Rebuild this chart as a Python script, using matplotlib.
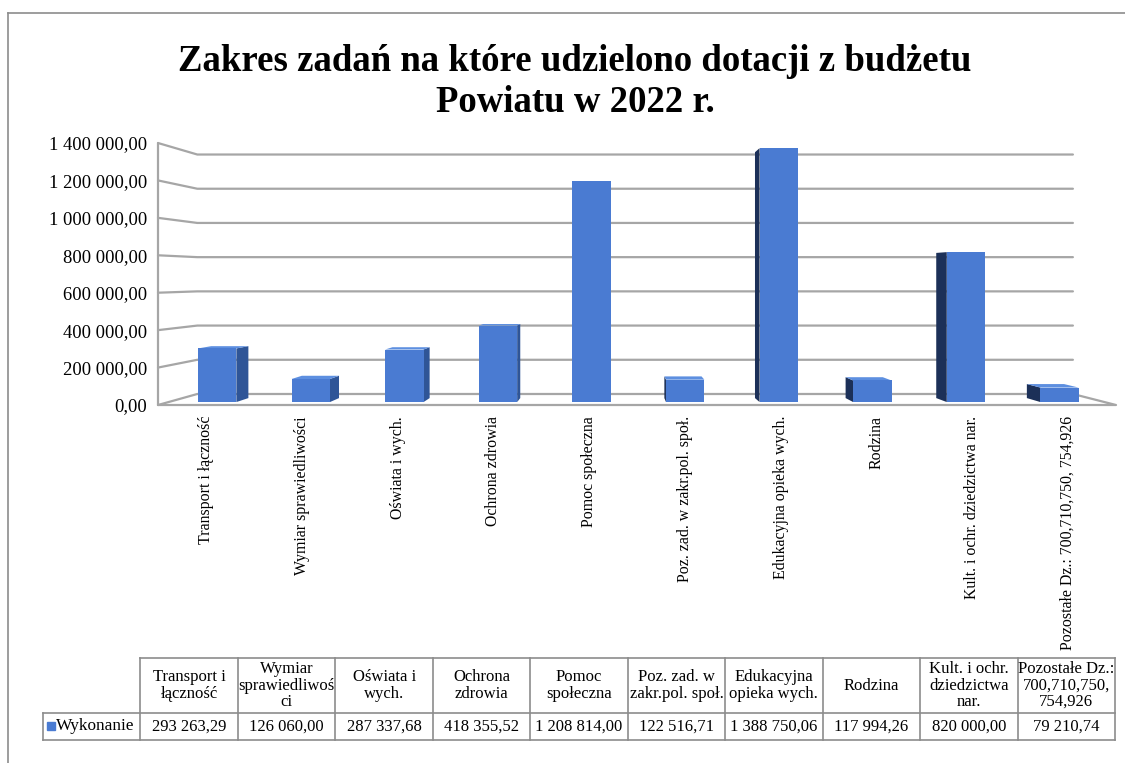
import matplotlib
matplotlib.use("Agg")
import matplotlib.pyplot as plt
from matplotlib.lines import Line2D

plt.rcParams['font.family'] = ['Liberation Serif', 'DejaVu Serif']

# data
categories = ["Transport i łączność", "Wymiar sprawiedliwości", "Oświata i wych.",
              "Ochrona zdrowia", "Pomoc społeczna", "Poz. zad. w zakr.pol. społ.",
              "Edukacyjna opieka wych.", "Rodzina", "Kult. i ochr. dziedzictwa nar.",
              "Pozostałe Dz.: 700,710,750, 754,926"]
table_headers = ["Transport i\nłączność", "Wymiar\nsprawiedliwoś\nci", "Oświata i\nwych.",
                 "Ochrona\nzdrowia", "Pomoc\nspołeczna", "Poz. zad. w\nzakr.pol. społ.",
                 "Edukacyjna\nopieka wych.", "Rodzina", "Kult. i ochr.\ndziedzictwa\nnar.",
                 "Pozostałe Dz.:\n700,710,750,\n754,926"]
series_name = "Wykonanie"
values = [293263.29, 126060.00, 287337.68, 418355.52, 1208814.00,
          122516.71, 1388750.06, 117994.26, 820000.00, 79210.74]
yticks = [0, 200000, 400000, 600000, 800000, 1000000, 1200000, 1400000]


def pl_fmt(v):
    return f"{v:,.2f}".replace(",", " ").replace(".", ",")


W, H = 1125, 763
fig = plt.figure(figsize=(W / 100, H / 100), dpi=100)

# outer chart frame (top and left edges visible)
fig.add_artist(Line2D([8 / W, 1], [1 - 13 / H, 1 - 13 / H], color='#8c8c8c', lw=1.2))
fig.add_artist(Line2D([8 / W, 8 / W], [1 - 13 / H, 0], color='#8c8c8c', lw=1.2))

fig.text(575 / W, 1 - 82 / H, "Zakres zadań na które udzielono dotacji z budżetu\nPowiatu w 2022 r.",
         ha='center', va='center', fontsize=26.5, fontweight='bold', linespacing=1.2)

# front plane of the 3D box
ax = fig.add_axes([158 / W, 1 - 405 / H, (1116 - 158) / W, (405 - 143) / H])
n = len(values)
ax.set_xlim(0, n)
ax.set_ylim(0, 1400000)
for sp in ax.spines.values():
    sp.set_visible(False)

# perspective: vanishing point (data units) and depth scales
VX, VV = 4.77, 684000
S_WALL, S_FRONT, S_BACK = 0.914, 0.977, 0.946
BW = 0.41


def proj(x, v, s):
    return VX + s * (x - VX), VV + s * (v - VV)


grid_kw = dict(color='#a6a6a6', lw=1.6, clip_on=False, zorder=1, solid_capstyle='round')
for t in yticks:
    x0, y0 = proj(0, t, 1)
    x1, y1 = proj(0, t, S_WALL)
    x2, y2 = proj(n, t, S_WALL)
    ax.plot([x0, x1, x2], [y0, y1, y2], **grid_kw)
# left wall front edge and floor
ax.plot([0, 0], [0, yticks[-1]], **grid_kw)
fx0, fy0 = proj(n, 0, S_WALL)
ax.plot([0, n, fx0], [0, 0, fy0], **grid_kw)

# bars
for i, val in enumerate(values):
    a, b = i + 0.52 - BW / 2, i + 0.52 + BW / 2
    if b < VX:
        side = [proj(b, 0, S_FRONT), proj(b, val, S_FRONT), proj(b, val, S_BACK), proj(b, 0, S_BACK)]
        ax.fill(*zip(*side), color='#2f5597', lw=0, zorder=3, clip_on=False)
    elif a > VX:
        side = [proj(a, 0, S_FRONT), proj(a, val, S_FRONT), proj(a, val, S_BACK), proj(a, 0, S_BACK)]
        ax.fill(*zip(*side), color='#1c3058', lw=0, zorder=3, clip_on=False)
    if val < VV:
        top = [proj(a, val, S_FRONT), proj(b, val, S_FRONT), proj(b, val, S_BACK), proj(a, val, S_BACK)]
        ax.fill(*zip(*top), color='#5d8fe0', lw=0, zorder=3, clip_on=False)
    front = [proj(a, 0, S_FRONT), proj(b, 0, S_FRONT), proj(b, val, S_FRONT), proj(a, val, S_FRONT)]
    ax.fill(*zip(*front), color='#4a7bd2', lw=0, zorder=4, clip_on=False)

ax.set_yticks(yticks)
ax.set_yticklabels([pl_fmt(t) for t in yticks], fontsize=13.4)
ax.set_xticks([i + 0.5 for i in range(n)])
ax.set_xticklabels(categories, rotation=90, fontsize=11.4, va='top')
ax.tick_params(length=0)
ax.tick_params(axis='y', pad=8)
ax.tick_params(axis='x', pad=8)

# data table
tax = fig.add_axes([43 / W, 1 - 740 / H, (1115 - 43) / W, (740 - 658) / H])
tax.set_xlim(0, n + 1)
tax.set_ylim(0, 82)
tax.axis('off')
ROW = 27
line_kw = dict(color='#8c8c8c', lw=1.2, clip_on=False)
tax.plot([1, n + 1], [82, 82], **line_kw)
tax.plot([0, n + 1], [ROW, ROW], **line_kw)
tax.plot([0, n + 1], [0, 0], **line_kw)
tax.plot([0, 0], [0, ROW], **line_kw)
for c in range(1, n + 2):
    tax.plot([c, c], [0, 82], **line_kw)
for i in range(n):
    tax.text(i + 1.5, (82 + ROW) / 2, table_headers[i], ha='center', va='center',
             fontsize=12.0, linespacing=1.05)
    tax.text(i + 1.5, ROW / 2, pl_fmt(values[i]), ha='center', va='center', fontsize=12.0)
tax.plot([0.085], [ROW / 2 + 0.5], marker='s', ms=5.5, color='#4a7bd2', lw=0, clip_on=False)
tax.text(0.135, ROW / 2, series_name, ha='left', va='center', fontsize=12.4)

fig.savefig("out.png", dpi=100)
